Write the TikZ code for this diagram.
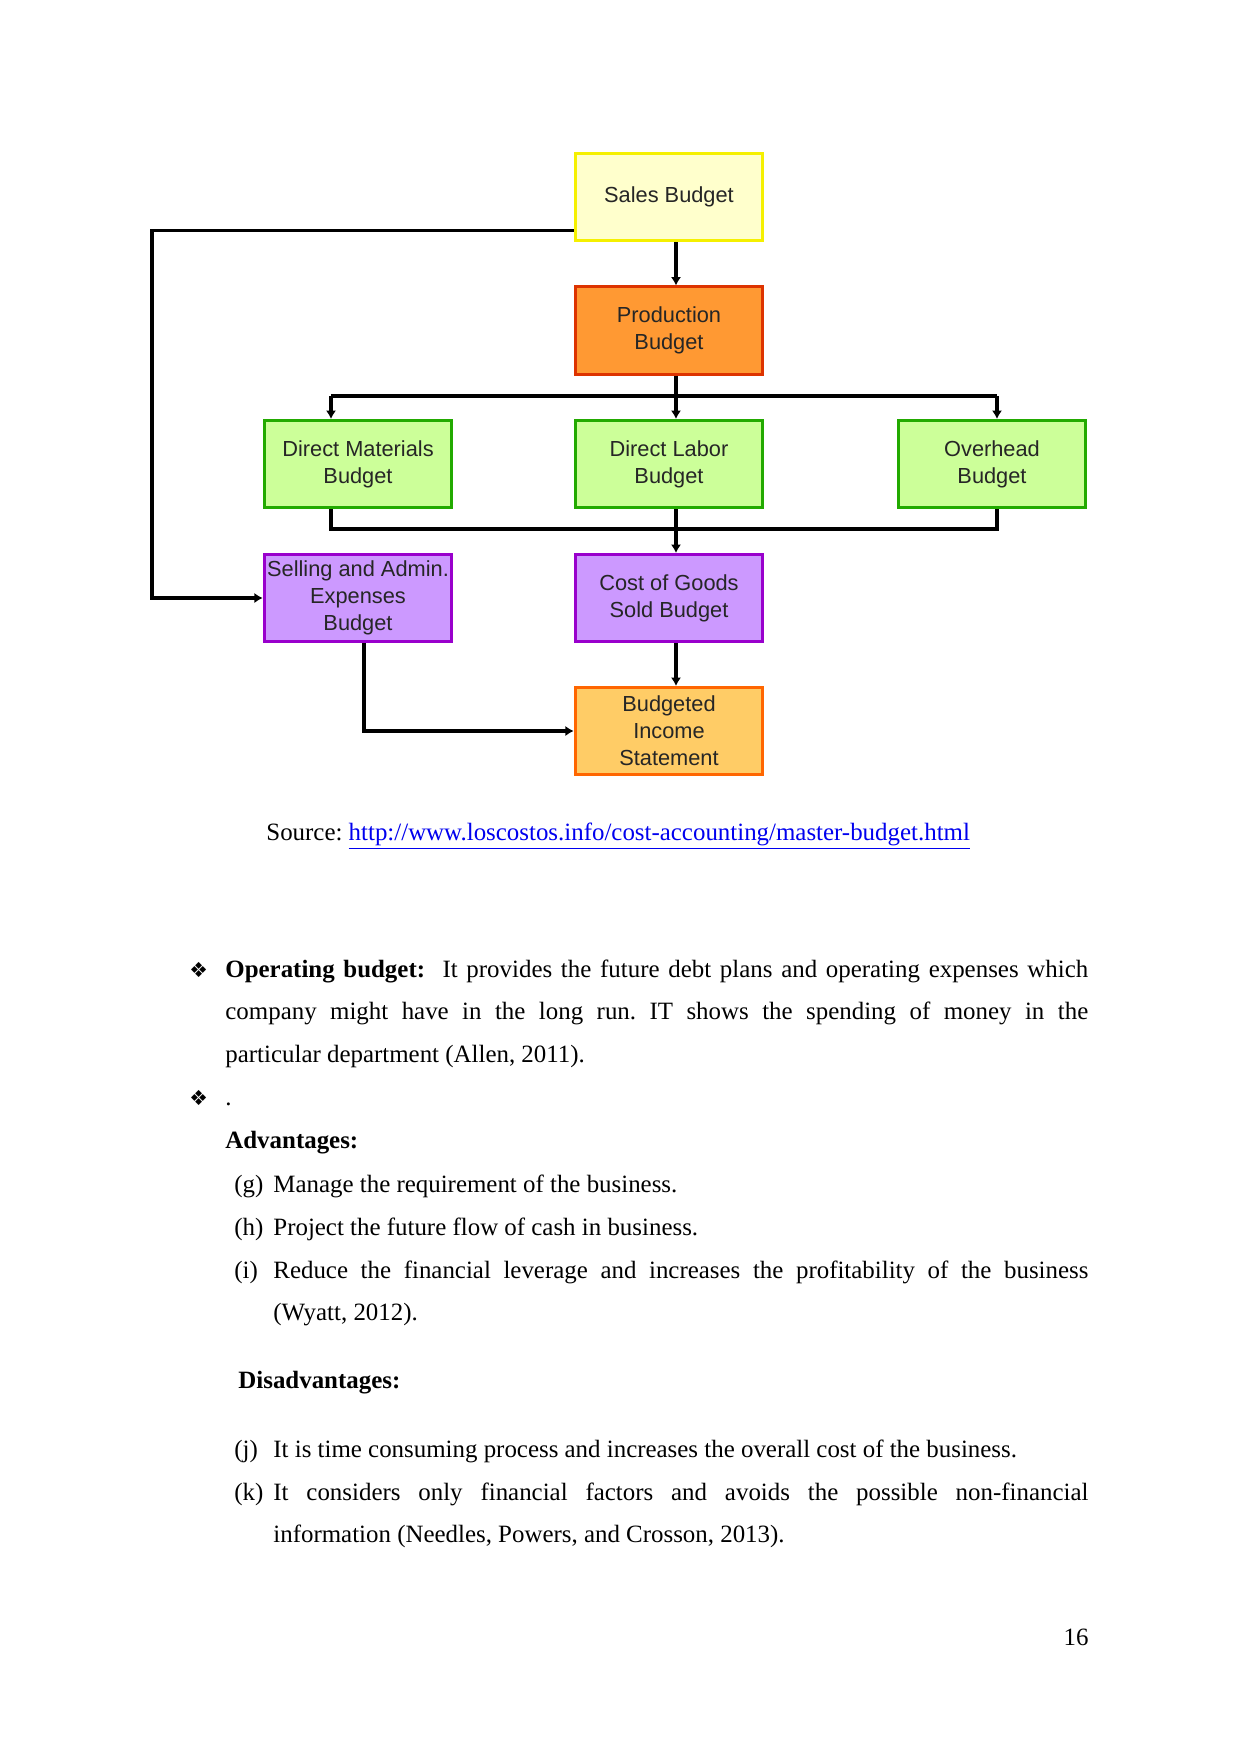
\documentclass[tikz,border=0pt]{standalone}
\usepackage{fontspec}
\setmainfont{Liberation Serif}
\newfontfamily\boxfont{Liberation Sans}
\newfontfamily\dingfont{DejaVu Sans}
\usetikzlibrary{positioning,calc,arrows.meta}
\definecolor{sal}{HTML}{FFFFCC}
\definecolor{salb}{HTML}{F5F000}
\definecolor{pro}{HTML}{FF9933}
\definecolor{prob}{HTML}{DD3300}
\definecolor{grn}{HTML}{CCFF99}
\definecolor{grnb}{HTML}{22AA00}
\definecolor{pur}{HTML}{CC99FF}
\definecolor{purb}{HTML}{9900CC}
\definecolor{incf}{HTML}{FFCC66}
\definecolor{incb}{HTML}{FF6600}
\definecolor{url}{HTML}{0000EE}
\frenchspacing

\begin{document}
\begin{tikzpicture}[x=0.16933mm, y=-0.16933mm,
  bud/.style 2 args={draw=#2, fill=#1, line width=1.4pt, minimum width=31.8mm, minimum height=14.8mm,
    inner sep=0pt, align=center, text=black!85, font=\boxfont\fontsize{10.5}{13}\selectfont},
  wire/.style={line width=1.5pt},
  feed/.style={wire, -{Latex[length=4pt,width=5pt]}},
  txt/.style={anchor=base west, inner sep=0pt, font=\fontsize{12}{20.6}\selectfont},
  para/.style={txt, align=justify, execute at begin node={\hyphenpenalty=10000\exhyphenpenalty=10000}},
  ding/.style={txt, font=\dingfont\fontsize{10}{12}\selectfont}]
\useasboundingbox (0,0) rectangle (1241,1754);

% the budget boxes
\node[bud={sal}{salb}] (sales) at (669,197) {Sales Budget};
\node[bud={pro}{prob}] (prod) at (669,330.5) {Production\\Budget};
\node[bud={grn}{grnb}] (dm) at (358,464) {Direct Materials\\Budget};
\node[bud={grn}{grnb}] (dl) at (669,464) {Direct Labor\\Budget};
\node[bud={grn}{grnb}] (oh) at (992,464) {Overhead\\Budget};
\node[bud={pur}{purb}] (sell) at (358,598) {Selling and Admin.\\Expenses\\Budget};
\node[bud={pur}{purb}] (cogs) at (669,598) {Cost of Goods\\Sold Budget};
\node[bud={incf}{incb}] (inc) at (669,731) {Budgeted\\Income\\Statement};

% where the connectors turn
\coordinate (tapL) at (331,396);
\coordinate (tapM) at (676,396);
\coordinate (tapR) at (997,396);
\coordinate (bot) at (0,529);
\coordinate (lft) at (152,598);
\coordinate (drop) at (364,0);

\draw[feed] ($(sales.south west)+(0,-12)$) -| (lft) -- (sell.west);
\draw[feed] (sales.south -| tapM) -- (prod.north -| tapM);
\draw[wire] (prod.south -| tapM) -- (tapM);
\draw[wire] (tapL) -- (tapR);
\foreach \t/\b in {tapL/dm,tapM/dl,tapR/oh} \draw[feed] (\t) -- (\t |- \b.north);
\draw[wire] (dm.south -| tapL) -- (tapL |- bot) -- (tapR |- bot) -- (oh.south -| tapR);
\draw[feed] (dl.south -| tapM) -- (cogs.north -| tapM);
\draw[feed] (cogs.south -| tapM) -- (inc.north -| tapM);
\draw[feed] (sell.south -| drop) |- (inc.west);

\node[txt] (src) at (266,840) {Source: \textcolor{url}{\underline{http://www.loscostos.info/cost-accounting/master-budget.html}}};

% the text below
\node[ding] (b1) at (189,977) {❖};
\node[para, text width=146.1mm] (op) at (225,977) {\textbf{Operating budget:}\ \ It provides the future debt plans and operating expenses which\linebreak company might have in the long run. IT shows the spending of money in the\linebreak particular department (Allen, 2011).};
\node[ding] (b2) at (189,1105) {❖};
\node[txt] (dot) at (225,1105) {.};
\node[txt] (adv) at (225,1148) {\textbf{Advantages:}};
\node[txt] (lg) at (234,1192) {(g)};
\node[txt] (tg) at (273,1192) {Manage the requirement of the business.};
\node[txt] (lh) at (234,1235) {(h)};
\node[txt] (th) at (273,1235) {Project the future flow of cash in business.};
\node[txt] (li) at (234,1278) {(i)};
\node[para, text width=138mm] (ti) at (273,1278) {Reduce the financial leverage and increases the profitability of the business\linebreak (Wyatt, 2012).};
\node[txt] (dis) at (238,1388) {\textbf{Disadvantages:}};
\node[txt] (lj) at (234,1457) {(j)};
\node[txt] (tj) at (273,1457) {It is time consuming process and increases the overall cost of the business.};
\node[txt] (lk) at (234,1500) {(k)};
\node[para, text width=138mm] (tk) at (273,1500) {It considers only financial factors and avoids the possible non-financial\linebreak information (Needles, Powers, and Crosson, 2013).};
\node[txt, anchor=base east] (pg) at (1089,1645) {16};
\end{tikzpicture}
\end{document}
